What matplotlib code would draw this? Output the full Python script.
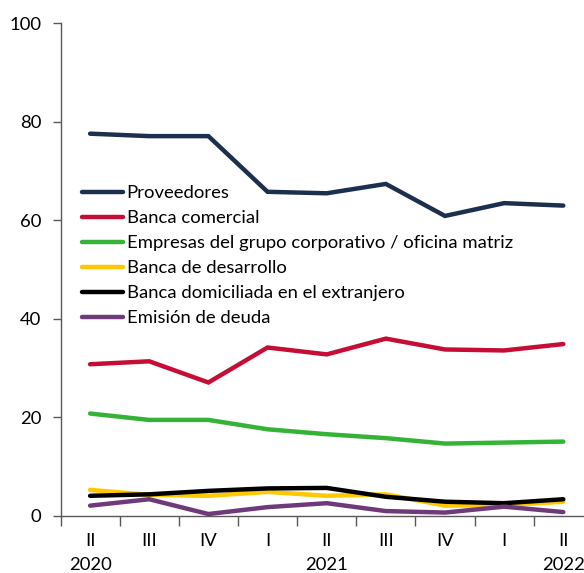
import matplotlib
matplotlib.use("Agg")
import matplotlib.pyplot as plt
from matplotlib.transforms import blended_transform_factory

plt.rcParams['font.family'] = ['Lato', 'DejaVu Sans']

quarters = ["II", "III", "IV", "I", "II", "III", "IV", "I", "II"]
years = {0: "2020", 4: "2021", 8: "2022"}

series_names = [
    "Proveedores",
    "Banca comercial",
    "Empresas del grupo corporativo / oficina matriz",
    "Banca de desarrollo",
    "Banca domiciliada en el extranjero",
    "Emisión de deuda",
]
proveedores = [77.6, 77.1, 77.1, 65.8, 65.5, 67.4, 60.9, 63.5, 63.0]
banca_comercial = [30.8, 31.4, 27.1, 34.2, 32.8, 36.0, 33.8, 33.6, 34.9]
empresas_grupo = [20.8, 19.5, 19.5, 17.6, 16.6, 15.8, 14.7, 14.9, 15.1]
banca_desarrollo = [5.3, 4.3, 4.1, 4.9, 4.1, 4.4, 2.1, 2.2, 2.9]
banca_extranjero = [4.1, 4.4, 5.1, 5.6, 5.7, 3.9, 2.9, 2.6, 3.4]
emision_deuda = [2.1, 3.4, 0.4, 1.8, 2.6, 1.0, 0.7, 1.9, 0.8]

values = [proveedores, banca_comercial, empresas_grupo,
          banca_desarrollo, banca_extranjero, emision_deuda]
colors = ["#1c2f4d", "#c50d36", "#35b336", "#ffc800", "#000000", "#6e3a7a"]

W, H = 584, 573
fig = plt.figure(figsize=(W / 100, H / 100), dpi=100)
left, right, bottom, top = 60.5, 584, 516, 23.3
ax = fig.add_axes([left / W, 1 - bottom / H, (right - left) / W, (bottom - top) / H])

x = list(range(len(quarters)))
handles = []
for i in range(len(values)):
    h, = ax.plot(x, values[i], color=colors[i], lw=3.2, solid_capstyle='round',
                 solid_joinstyle='miter', label=series_names[i])
    handles.append(h)

FS = 13.3
ax.set_xlim(-0.5, 8.35)
ax.set_ylim(0, 100)
ax.set_yticks([0, 20, 40, 60, 80, 100])
ax.tick_params(axis='y', direction='out', length=6, width=1, color='#595959',
               labelsize=FS, pad=8)
ax.set_xticks([-0.5] + [k + 0.5 for k in range(8)])
ax.set_xticklabels([])
ax.tick_params(axis='x', direction='out', length=7, width=1, color='#595959')
ax.set_xticks(x, minor=True)
ax.set_xticklabels(quarters, minor=True)
ax.tick_params(axis='x', which='minor', length=0, labelsize=FS, pad=12)

trans = blended_transform_factory(ax.transData, ax.transAxes)
for k, yr in years.items():
    ax.text(k, -(565 - bottom) / (bottom - top), yr, transform=trans,
            ha='center', va='center', fontsize=FS)

for s in ['top', 'right']:
    ax.spines[s].set_visible(False)
for s in ['left', 'bottom']:
    ax.spines[s].set_color('#595959')
    ax.spines[s].set_linewidth(1)

leg = ax.legend(handles=handles, loc='upper left',
                bbox_to_anchor=(82 / W, 1 - 185 / H), bbox_transform=fig.transFigure,
                frameon=False, fontsize=FS, handlelength=2.2, handletextpad=0.22,
                labelspacing=0.49, borderpad=0, borderaxespad=0)

fig.savefig("out.png", dpi=100)
